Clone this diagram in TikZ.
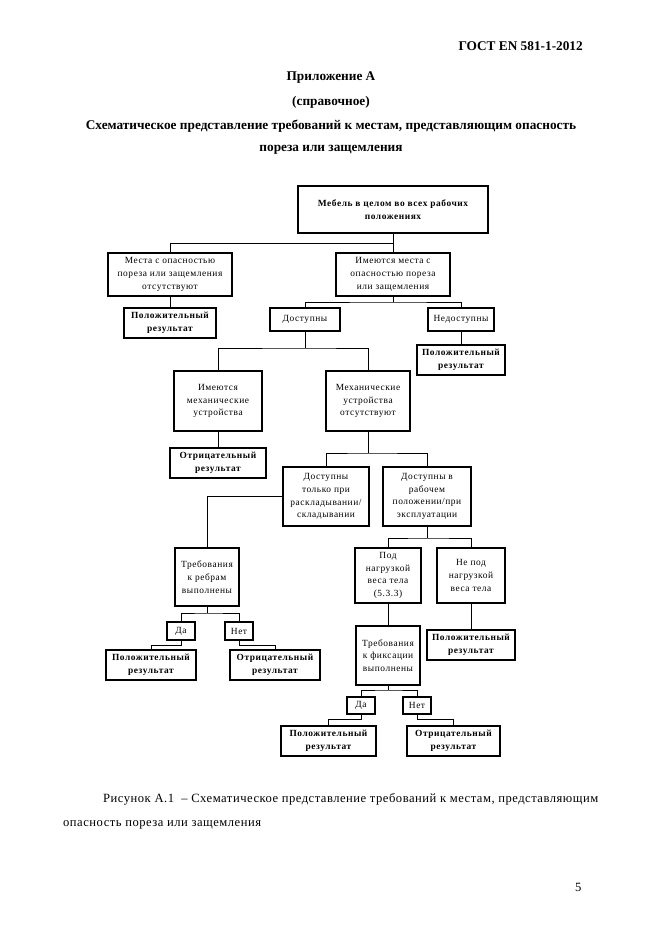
\documentclass[tikz,border=0pt]{standalone}
\usepackage{fontspec}
\setmainfont{Liberation Serif}
\newfontfamily\boxfont[LetterSpace=6]{Liberation Serif}
\newfontfamily\capfont[LetterSpace=4]{Liberation Serif}
\usetikzlibrary{calc}
\newcommand\mybox[7]{\node[#6, minimum width=#4-#2, minimum height=#5-#3] (#1) at ({(#2+#4)/2},{(#3+#5)/2}) {#7};}
\begin{document}
\begin{tikzpicture}[x=1pt,y=-1pt,
  box/.style={draw, line width=1.1pt, inner sep=0pt, align=center, font=\boxfont\fontsize{9.4}{12.8}\selectfont},
  res/.style={box, line width=2pt, font=\boxfont\bfseries\fontsize{9.4}{13.2}\selectfont},
  conn/.style={line width=0.9pt},
  title/.style={font=\bfseries\fontsize{13.3}{15}\selectfont, inner sep=0pt},
  captext/.style={font=\capfont\fontsize{12.6}{14}\selectfont, inner sep=0pt, anchor=base west}]
\useasboundingbox[fill=white] (0,0) rectangle (661,935);

\node[title, anchor=east] (gost) at (583,46) {ГОСТ EN 581-1-2012};
\node[title] (pril) at (331,78) {Приложение А};
\node[title] (spr) at (331,102) {(справочное)};
\node[title] (t1) at (331,126) {Схематическое представление требований к местам, представляющим опасность};
\node[title] (t2) at (331,150) {пореза или защемления};

\mybox{top}{298}{186}{488}{233}{res}{Мебель в целом во всех рабочих\\положениях}
\mybox{b3}{108}{253}{232}{296}{box}{Места с опасностью\\пореза или защемления\\отсутствуют}
\mybox{b4}{336}{253}{450}{296}{box}{Имеются места с\\опасностью пореза\\или защемления}
\mybox{r1}{124}{308}{216}{338}{res}{Положительный\\результат}
\mybox{dost}{270}{308}{340}{331}{box}{Доступны}
\mybox{nedost}{428}{308}{494}{331}{box}{Недоступны}
\mybox{r2}{417}{345}{505}{375}{res}{Положительный\\результат}
\mybox{im}{174}{371}{262}{431}{box}{Имеются\\механические\\устройства}
\mybox{mo}{326}{371}{410}{431}{box}{Механические\\устройства\\отсутствуют}
\mybox{o1}{170}{448}{266}{478}{res}{Отрицательный\\результат}
\mybox{dt}{283}{467}{369}{526}{box}{Доступны\\только при\\раскладывании/\\складывании}
\mybox{dr}{383}{467}{471}{526}{box}{Доступны в\\рабочем\\положении/при\\эксплуатации}
\mybox{tr1}{175}{548}{239}{606}{box}{Требования\\к ребрам\\выполнены}
\mybox{pn}{355}{548}{421}{603}{box}{Под\\нагрузкой\\веса тела\\(5.3.3)}
\mybox{npn}{437}{548}{505}{603}{box}{Не под\\нагрузкой\\веса тела}
\mybox{r3}{427}{630}{515}{660}{res}{Положительный\\результат}
\mybox{tf}{356}{626}{420}{685}{box}{Требования\\к фиксации\\выполнены}
\mybox{da1}{167}{622}{195}{640}{box}{Да}
\mybox{net1}{225}{622}{253}{640}{box}{Нет}
\mybox{r5}{106}{650}{196}{680}{res}{Положительный\\результат}
\mybox{o3}{230}{650}{320}{680}{res}{Отрицательный\\результат}
\mybox{da2}{347}{697}{375}{714}{box}{Да}
\mybox{net2}{403}{697}{431}{714}{box}{Нет}
\mybox{r4}{281}{726}{376}{756}{res}{Положительный\\результат}
\mybox{o2}{407}{726}{500}{756}{res}{Отрицательный\\результат}

\coordinate (j1) at (393,243);
\coordinate (j2) at (393,302);
\coordinate (j3) at (305,348);
\coordinate (j4) at (368,453);
\coordinate (j5) at (427,538);
\coordinate (j6) at (388,690);
\coordinate (j7) at (207,613);

\draw[conn] (top.south) -- (b4.north);
\draw[conn] (b3.north) |- (j1);
\draw[conn] (b3.south) -- (r1.north);
\draw[conn] (b4.south) -- (j2);
\draw[conn] (dost.north) |- (j2) -| (nedost.north);
\draw[conn] (nedost.south) -- (r2.north);
\draw[conn] (dost.south) -- (j3);
\draw[conn] (im.north) |- (j3) -| (mo.north);
\draw[conn] (im.south) -- (o1.north);
\draw[conn] (mo.south) -- (j4);
\draw[conn] (dt.north) |- (j4) -| (dr.north);
\draw[conn] (dt.west) -| (tr1.north);
\draw[conn] (dr.south) -- (j5);
\draw[conn] (pn.north) |- (j5) -| (npn.north);
\draw[conn] (pn.south) -- (tf.north);
\draw[conn] (npn.south) -- (r3.north);
\draw[conn] (tf.south) -- (j6);
\draw[conn] (da2.north) |- (j6) -| (net2.north);
\draw[conn] (da2.south) -- ++(0,5) -| (r4.north);
\draw[conn] (net2.south) -- ++(0,5) -| (o2.north);
\draw[conn] (tr1.south) -- (j7);
\draw[conn] (da1.north) |- (j7) -| (net1.north);
\draw[conn] (da1.south) -- ++(0,5) -| (r5.north);
\draw[conn] (net1.south) -- ++(0,5) -| (o3.north);

\node[captext] (cap1) at (103,802) {Рисунок А.1\ \ – Схематическое представление требований к местам, представляющим};
\node[captext] (cap2) at (63,826) {опасность пореза или защемления};
\node[captext] (pg) at (575,891) {5};
\end{tikzpicture}
\end{document}
